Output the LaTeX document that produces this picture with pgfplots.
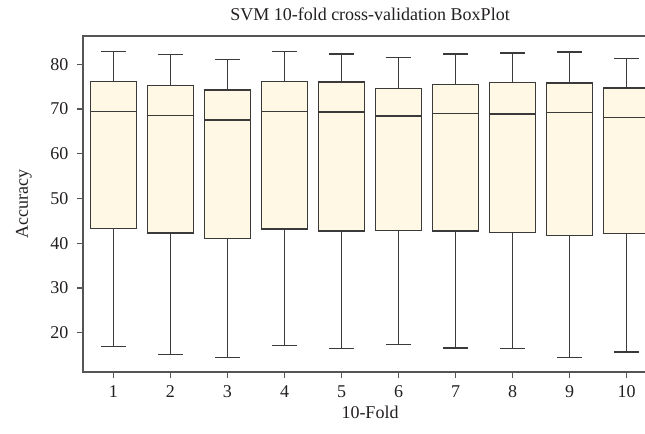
\documentclass[border=0pt]{standalone}
\usepackage{fontspec}
\setmainfont{Liberation Serif}
\usepackage{pgfplots}
\pgfplotsset{compat=1.18}
\usepgfplotslibrary{statistics}
\definecolor{boxfill}{HTML}{FFF8E4}
\definecolor{boxline}{HTML}{3A3A3A}
\definecolor{spine}{HTML}{555555}
\definecolor{txt}{HTML}{231F20}

\begin{document}
\begin{tikzpicture}[font=\fontsize{13.5}{16}\selectfont]
\begin{axis}[
    scale only axis,
    width=430.5pt, height=252pt,
    xmin=0.465, xmax=10.535,
    ymin=11.22, ymax=86.3,
    xtick={1,...,10},
    ytick={20,30,...,80},
    xtick pos=bottom, ytick pos=left,
    tick align=outside,
    major tick length=4.5pt,
    axis line style={spine, line width=1pt},
    tick style={spine, line width=1pt},
    tick label style={txt},
    xticklabel style={yshift=-2.25pt},
    yticklabel style={xshift=-3pt},
    /pgf/number format/assume math mode=true,
    every axis title shift=0pt,
    title={SVM 10-fold cross-validation BoxPlot},
    title style={txt, at={(axis description cs:0.5,1.0446)}, anchor=base},
    xlabel={10-Fold},
    xlabel style={txt, at={(axis description cs:0.5,-0.119)}, anchor=center},
    ylabel={Accuracy},
    ylabel style={txt, at={(axis description cs:-0.1028,0.5)}, anchor=center, rotate=0},
    boxplot/draw direction=y,
    boxplot/box extend=0.81,
    boxplot/whisker extend=0.44,
    every axis plot/.append style={draw=boxline, fill=boxfill, line width=1pt},
]
\addplot[boxplot prepared={draw position=1, lower whisker=16.9, lower quartile=43.3, median=69.4, upper quartile=76.2, upper whisker=82.9}] coordinates {};
\addplot[boxplot prepared={draw position=2, lower whisker=15.2, lower quartile=42.3, median=68.6, upper quartile=75.3, upper whisker=82.2}] coordinates {};
\addplot[boxplot prepared={draw position=3, lower whisker=14.4, lower quartile=41.0, median=67.5, upper quartile=74.2, upper whisker=81.0}] coordinates {};
\addplot[boxplot prepared={draw position=4, lower whisker=17.1, lower quartile=43.2, median=69.4, upper quartile=76.2, upper whisker=82.8}] coordinates {};
\addplot[boxplot prepared={draw position=5, lower whisker=16.4, lower quartile=42.7, median=69.3, upper quartile=76.0, upper whisker=82.3}] coordinates {};
\addplot[boxplot prepared={draw position=6, lower whisker=17.3, lower quartile=42.9, median=68.4, upper quartile=74.6, upper whisker=81.5}] coordinates {};
\addplot[boxplot prepared={draw position=7, lower whisker=16.6, lower quartile=42.7, median=69.0, upper quartile=75.5, upper whisker=82.3}] coordinates {};
\addplot[boxplot prepared={draw position=8, lower whisker=16.4, lower quartile=42.4, median=68.9, upper quartile=75.9, upper whisker=82.5}] coordinates {};
\addplot[boxplot prepared={draw position=9, lower whisker=14.4, lower quartile=41.7, median=69.2, upper quartile=75.8, upper whisker=82.7}] coordinates {};
\addplot[boxplot prepared={draw position=10, lower whisker=15.7, lower quartile=42.1, median=68.1, upper quartile=74.7, upper whisker=81.2}] coordinates {};
\coordinate (sw) at (rel axis cs:0,0);
\end{axis}
\pgfresetboundingbox
\path[use as bounding box] ([xshift=-62.25pt,yshift=-46.5pt]sw) rectangle ++(483.75pt,325.5pt);
\end{tikzpicture}
\end{document}
